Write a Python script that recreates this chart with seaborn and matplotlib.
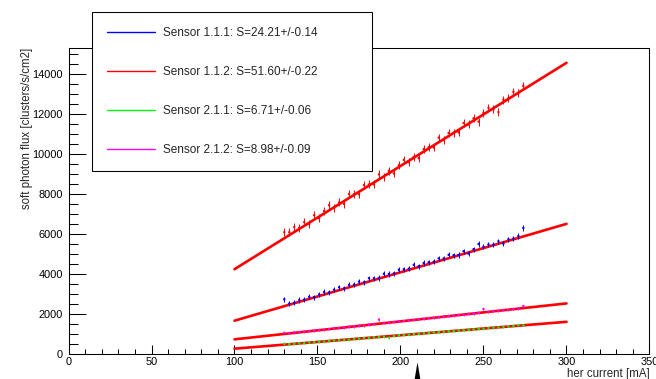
import matplotlib
matplotlib.use("Agg")
import matplotlib.pyplot as plt
from matplotlib.lines import Line2D
from matplotlib.ticker import MultipleLocator
from matplotlib.transforms import blended_transform_factory
import pandas as pd
import seaborn as sns

# HER beam current [mA] of each measurement
current = [130, 133, 136, 139, 142, 145, 148, 151, 154, 157, 160, 163, 166, 169,
           172, 175, 178, 181, 184, 187, 190, 193, 196, 199, 202, 205, 208, 211,
           214, 217, 220, 223, 226, 229, 232, 235, 238, 241, 244, 247, 250, 253,
           256, 259, 262, 265, 268, 271, 274]

# soft photon flux [clusters/s/cm2] per sensor
flux_111 = [2740, 2520, 2560, 2700, 2720, 2860, 2840, 2980, 3100, 3080,
            3220, 3340, 3280, 3460, 3470, 3620, 3590, 3790, 3790, 3800,
            4010, 4000, 4030, 4210, 4240, 4270, 4460, 4390, 4550, 4590,
            4610, 4780, 4780, 4960, 4940, 4950, 5140, 5020, 5240, 5500,
            5360, 5480, 5460, 5640, 5520, 5740, 5770, 5900, 6300]
flux_112 = [6090, 6090, 6350, 6300, 6590, 6500, 6940, 6790, 7150, 7440,
            7300, 7580, 7500, 8000, 7990, 7990, 8450, 8480, 8480, 8980,
            8850, 9160, 9030, 9440, 9710, 9590, 9850, 9790, 10250, 10340,
            10330, 10820, 10690, 11050, 11070, 11080, 11550, 11480, 11780, 11620,
            12060, 12310, 12230, 12100, 12720, 12790, 13110, 13040, 13400]
flux_211 = [520, 500, 510, 540, 540, 580, 590, 620, 620, 660,
            680, 690, 720, 720, 760, 770, 800, 800, 840, 850,
            870, 820, 900, 940, 950, 970, 1000, 1010, 1040, 1050,
            1080, 1090, 1120, 1130, 1150, 1180, 1190, 1220, 1230, 1270,
            1260, 1300, 1320, 1330, 1360, 1380, 1400, 1450, 1430]
flux_212 = [1060, 1050, 1080, 1100, 1120, 1150, 1170, 1200, 1210, 1250,
            1290, 1300, 1330, 1370, 1380, 1420, 1430, 1470, 1500, 1720,
            1560, 1560, 1600, 1640, 1650, 1690, 1700, 1750, 1760, 1800,
            1810, 1850, 1870, 1900, 1910, 1960, 1970, 2010, 2030, 2060,
            2250, 2100, 2150, 2160, 2200, 2210, 2250, 2280, 2400]

# statistical uncertainty of each point
flux_err = [130, 200, 50, 60]

sensors = ["1.1.1", "1.1.2", "2.1.1", "2.1.2"]
colors = ["#0000ff", "#ff0000", "#00ff00", "#ff00ff"]

# linear fit results: slope S and its error, intercept
slopes = [24.21, 51.60, 6.71, 8.98]
slope_errs = [0.14, 0.22, 0.06, 0.09]
intercepts = [-756, -920, -404, -165]
fit_range = [100, 300]

nominal_current = 210

fluxes = [flux_111, flux_112, flux_211, flux_212]

points = pd.concat(
    [pd.DataFrame({"current": current, "flux": f, "sensor": s})
     for s, f in zip(sensors, fluxes)],
    ignore_index=True,
)
fits = pd.concat(
    [pd.DataFrame({"current": fit_range,
                   "flux": [k * x + b for x in fit_range],
                   "sensor": s})
     for s, k, b in zip(sensors, slopes, intercepts)],
    ignore_index=True,
)

sns.set_style("ticks")
plt.rcParams["font.family"] = ["Liberation Sans", "DejaVu Sans"]

W, H = 656, 379
fig = plt.figure(figsize=(W / 100, H / 100), dpi=100)
ax = fig.add_axes([68.5 / W, 25 / H, 581 / W, 306 / H])

# linear fits underneath the measured points
sns.lineplot(data=fits, x="current", y="flux", units="sensor",
             estimator=None, color="#ff0000", lw=1.9, ax=ax, zorder=2)

for s, f, e, c in zip(sensors, fluxes, flux_err, colors):
    ax.errorbar(current, f, yerr=e, fmt="none", ecolor=c, elinewidth=0.7,
                capsize=0, zorder=3)

sns.scatterplot(data=points, x="current", y="flux", hue="sensor",
                palette=colors, hue_order=sensors, marker="o", s=3,
                linewidth=0, legend=False, ax=ax, zorder=4)

ax.set_xlim(0, 350)
ax.set_ylim(0, 15300)
ax.xaxis.set_major_locator(MultipleLocator(50))
ax.xaxis.set_minor_locator(MultipleLocator(10))
ax.yaxis.set_major_locator(MultipleLocator(2000))
ax.yaxis.set_minor_locator(MultipleLocator(500))

ax.tick_params(which="both", direction="in", top=False, right=False,
               width=0.75, colors="black", labelsize=7.9)
ax.tick_params(axis="x", which="major", length=6.5, pad=2.5)
ax.tick_params(axis="x", which="minor", length=3.6)
ax.tick_params(axis="y", which="major", length=12, pad=4)
ax.tick_params(axis="y", which="minor", length=6.5)

for sp in ax.spines.values():
    sp.set_visible(True)
    sp.set_color("black")
    sp.set_linewidth(0.75)

ax.set_xlabel("her current [mA]", fontsize=8.3, loc="right")
ax.set_ylabel("soft photon flux [clusters/s/cm2]", fontsize=8.3, loc="top")
ax.xaxis.set_label_coords(1.0, -0.045)
ax.yaxis.set_label_coords(-0.061, 1.0)

# marker for the nominal beam current below the axis
trans = blended_transform_factory(ax.transData, ax.transAxes)
ax.plot([nominal_current], [-0.07], marker=[(0, 1), (-0.34, -1), (0.34, -1)],
        ms=19, color="black", mew=0, transform=trans, clip_on=False)

handles = [Line2D([], [], color=c, lw=1.0) for c in colors]
labels = [f"Sensor {s}: S={k:.2f}+/-{e:.2f}"
          for s, k, e in zip(sensors, slopes, slope_errs)]
leg = ax.legend(handles, labels, loc="upper left",
                bbox_to_anchor=(92 / W, 1 - 12 / H, 280 / W, 0),
                bbox_transform=fig.transFigure, mode="expand",
                borderaxespad=0, frameon=True, fancybox=False,
                edgecolor="black", framealpha=1, fontsize=8.5,
                handlelength=4.1, handletextpad=0.65, borderpad=1.25,
                labelspacing=2.3)
leg.get_frame().set_linewidth(0.75)

fig.savefig("out.png", dpi=100)
